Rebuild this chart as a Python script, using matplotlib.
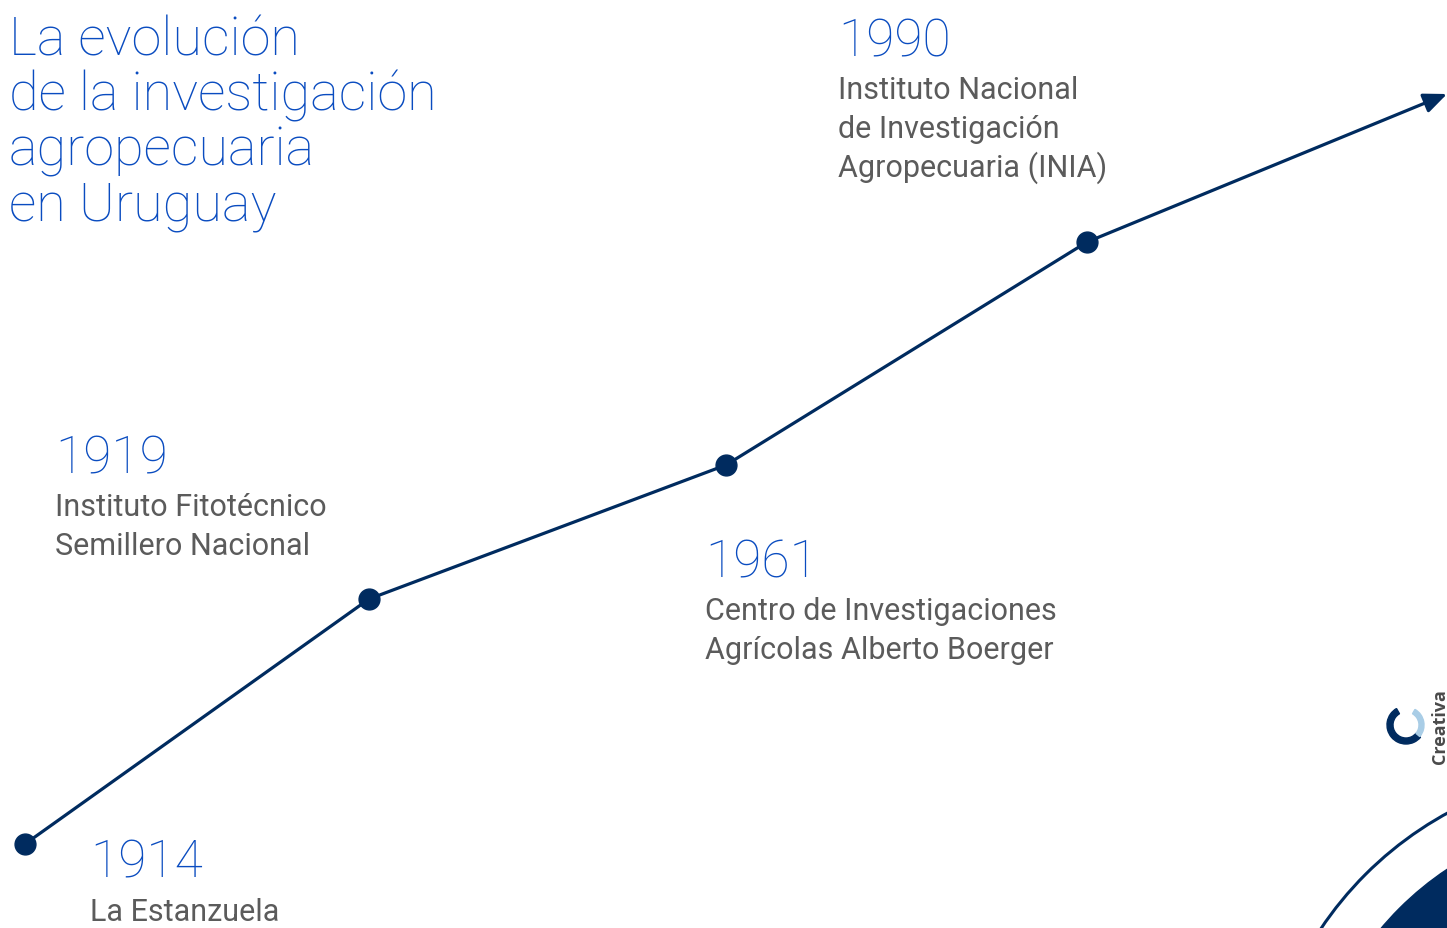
import numpy as np
import matplotlib.pyplot as plt
from matplotlib.patches import Circle, Wedge

# timeline milestones (positions in picture units, y grows downward)
years = ["1914", "1919", "1961", "1990"]
names = [
    ["La Estanzuela"],
    ["Instituto Fitotécnico", "Semillero Nacional"],
    ["Centro de Investigaciones", "Agrícolas Alberto Boerger"],
    ["Instituto Nacional", "de Investigación", "Agropecuaria (INIA)"],
]
point_x = [25, 369, 726, 1087]
point_y = [845, 600, 466, 243]
arrow_end = (1447, 95)

# label anchors: (x, baseline of year)
label_x = [90, 55, 705, 838]
label_y = [878, 473, 577, 56]

title_lines = ["La evolución", "de la investigación", "agropecuaria", "en Uruguay"]

navy = "#002b5f"
blue = "#0a4cc0"
grey = "#5b5b5b"
font = "Roboto"

fig = plt.figure(figsize=(14.47, 9.29), dpi=100)
ax = fig.add_axes([0, 0, 1, 1])
ax.set_xlim(0, 1447)
ax.set_ylim(929, 0)
ax.axis("off")

ax.plot(point_x, point_y, color=navy, lw=2.3, solid_capstyle="butt", zorder=2)
ax.annotate("", xy=arrow_end, xytext=(point_x[-1], point_y[-1]),
            arrowprops=dict(arrowstyle="-|>,head_length=1.4,head_width=0.6",
                            color=navy, lw=2.3, shrinkA=0, shrinkB=0))
ax.plot(point_x, point_y, "o", color=navy, ms=15, zorder=3)

for i, yl in enumerate(title_lines):
    ax.text(9, 55 + 55 * i, yl, color=blue, fontsize=39, family=font,
            weight="light", va="baseline", ha="left")

for yr, lines, lx, ly in zip(years, names, label_x, label_y):
    ax.text(lx, ly, yr, color=blue, fontsize=37, family=font, weight="light",
            va="baseline", ha="left")
    for j, t in enumerate(lines):
        ax.text(lx, ly + 43 + 39 * j, t, color=grey, fontsize=22, family=font,
                va="baseline", ha="left")

# decorative circles, bottom right
ax.add_patch(Circle((1620, 1130), 360, fill=False, ec=navy, lw=2.2, zorder=1))
ax.add_patch(Circle((1620, 1130), 312, color=navy, zorder=1))

# small logo
ax.add_patch(Wedge((1406, 726), 19, 40, 240, width=6, color=navy))
ax.add_patch(Wedge((1406, 726), 18, -60, 40, width=5, color="#a9cde6"))
ax.text(1440, 727, "Creativa", rotation=90, color="#4a4a4a", fontsize=13,
        family="Open Sans", weight="bold", va="center", ha="center")

fig.savefig("out.png", dpi=100)
